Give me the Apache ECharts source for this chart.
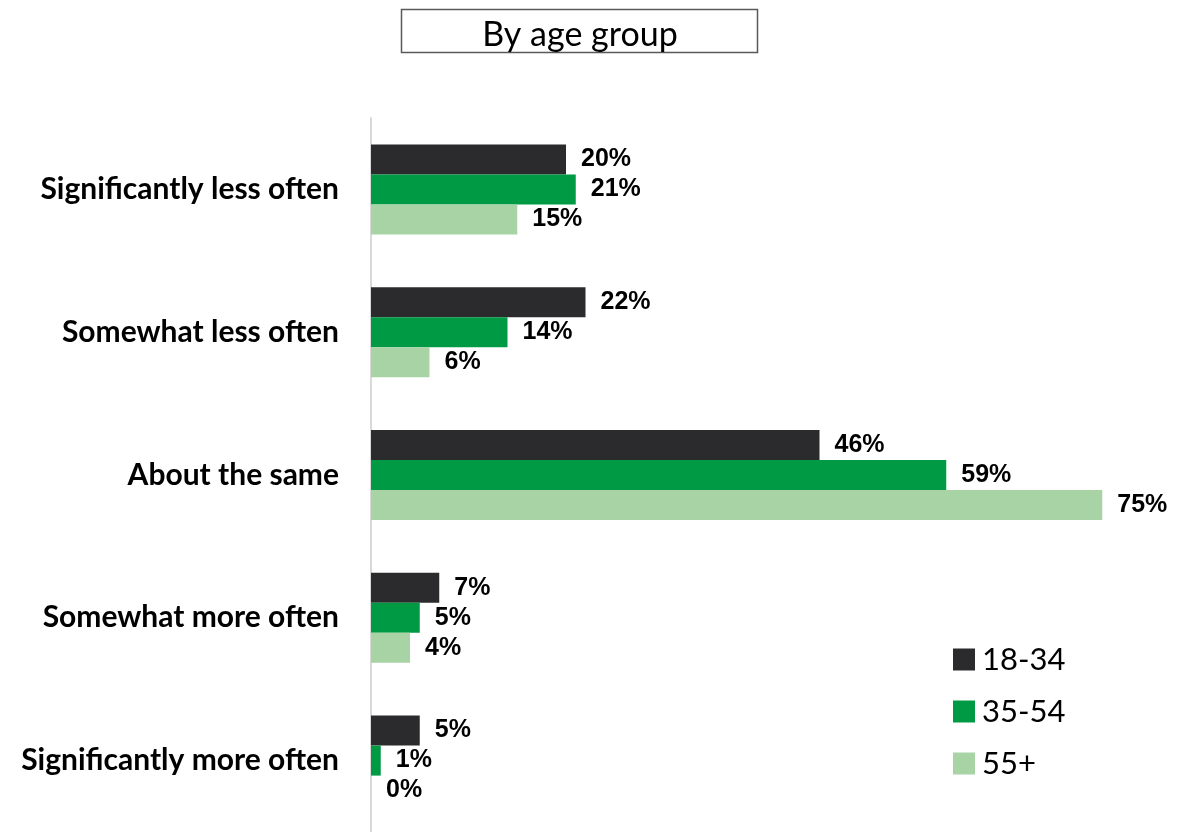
<!DOCTYPE html>
<html>
<head>
<meta charset="utf-8">
<script src="https://cdn.jsdelivr.net/npm/echarts@6/dist/echarts.min.js"></script>
<style>
  html, body { margin: 0; padding: 0; background: #fff; }
  #chart { width: 1194px; height: 832px; }
</style>
</head>
<body>
<div id="chart"></div>
<script>
// Response categories, top to bottom
const categories = [
  'Significantly less often',
  'Somewhat less often',
  'About the same',
  'Somewhat more often',
  'Significantly more often'
];
// Age groups
const groups = ['18-34', '35-54', '55+'];
// Share of respondents (%) per age group
const age18to34 = [20, 22, 46, 7, 5];
const age35to54 = [21, 14, 59, 5, 1];
const age55plus = [15, 6, 75, 4, 0];
const colors = ['#2b2b2d', '#009a44', '#a8d3a4'];

const seriesValues = [age18to34, age35to54, age55plus];

const chart = echarts.init(document.getElementById('chart'), null, { renderer: 'canvas' });

const series = groups.map((g, i) => ({
  name: g,
  type: 'bar',
  data: seriesValues[i],
  barWidth: 30,
  barGap: '0%',
  itemStyle: { color: colors[i] },
  label: {
    show: true,
    position: 'right',
    distance: 15,
    formatter: '{c}%',
    fontFamily: 'Liberation Sans, Arial, sans-serif',
    fontWeight: 'bold',
    fontSize: 25,
    color: '#000'
  }
}));

chart.setOption({
  animation: false,
  title: {
    text: 'By age group',
    left: 575,
    top: 13,
    textAlign: 'center',
    textStyle: { fontFamily: 'Lato, sans-serif', fontSize: 34, fontWeight: 'normal', color: '#000' }
  },
  graphic: [{
    type: 'rect',
    shape: { x: 401.5, y: 9.5, width: 356, height: 43 },
    style: { fill: 'none', stroke: '#595959', lineWidth: 1.5 },
    z: -1
  }],
  legend: {
    orient: 'vertical',
    left: 948,
    top: 639,
    itemWidth: 22,
    itemHeight: 22,
    itemGap: 21,
    icon: 'rect',
    data: groups,
    textStyle: { fontFamily: 'Lato, sans-serif', fontSize: 31, color: '#000', padding: [0, 0, 0, 2] }
  },
  grid: { left: 371, top: 118, width: 731.25, height: 720, containLabel: false },
  xAxis: {
    type: 'value',
    min: 0,
    max: 75,
    show: false
  },
  yAxis: {
    type: 'category',
    data: categories,
    inverse: true,
    axisLine: { show: true, lineStyle: { color: '#d9d9d9', width: 2 } },
    axisTick: { show: false },
    axisLabel: {
      margin: 32,
      fontFamily: 'Lato, sans-serif',
      fontWeight: 'bold',
      fontSize: 30,
      color: '#000'
    }
  },
  series: series
});
</script>
</body>
</html>
